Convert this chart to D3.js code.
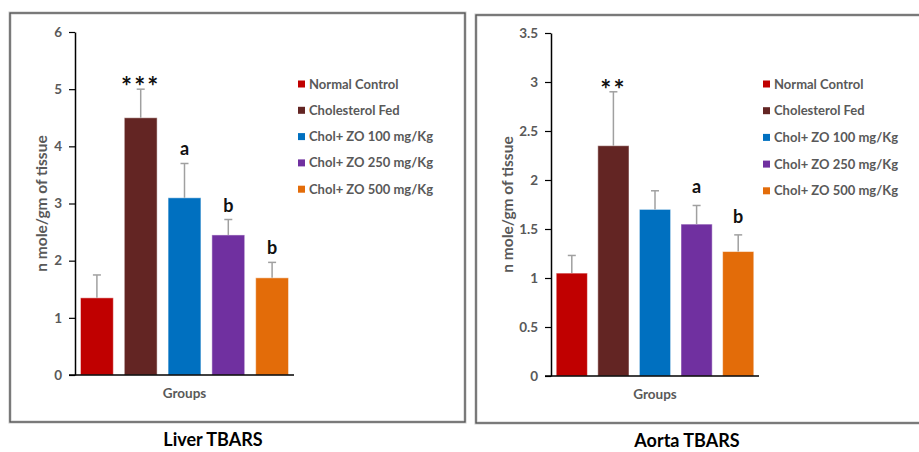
<!DOCTYPE html>
<html>
<head>
<meta charset="utf-8">
<script src="https://cdn.jsdelivr.net/npm/d3@7"></script>
<style>
  body { margin: 0; background: #fff; }
  svg text { font-family: Lato, "Liberation Sans", sans-serif; }
</style>
</head>
<body>
<div id="chart"></div>
<script>
// groups and colours shared by both panels
const groups = ["Normal Control", "Cholesterol Fed", "Chol+ ZO 100 mg/Kg", "Chol+ ZO 250 mg/Kg", "Chol+ ZO 500 mg/Kg"];
const groupColors = ["#c00000", "#632523", "#0070c0", "#7030a0", "#e36c09"];

// Liver TBARS
const liverMeans = [1.35, 4.5, 3.1, 2.45, 1.7];
const liverErrors = [0.4, 0.5, 0.6, 0.27, 0.27];
const liverMarks = ["", "***", "a", "b", "b"];
const liverTicks = [0, 1, 2, 3, 4, 5, 6];

// Aorta TBARS
const aortaMeans = [1.05, 2.35, 1.7, 1.55, 1.27];
const aortaErrors = [0.18, 0.55, 0.19, 0.19, 0.17];
const aortaMarks = ["", "**", "", "a", "b"];
const aortaTicks = [0, 0.5, 1, 1.5, 2, 2.5, 3, 3.5];

const yTitle = "n mole/gm of tissue";
const xTitle = "Groups";

const W = 919, H = 452;
const svg = d3.select("#chart").append("svg").attr("width", W).attr("height", H);

function drawPanel(p) {
  const g = svg.append("g");

  // frame
  g.append("rect")
    .attr("x", p.frame[0]).attr("y", p.frame[1])
    .attr("width", p.frame[2]).attr("height", p.frame[3])
    .attr("fill", "none").attr("stroke", "#c8c8c8").attr("stroke-width", 3);
  g.append("rect")
    .attr("x", p.frame[0]).attr("y", p.frame[1])
    .attr("width", p.frame[2]).attr("height", p.frame[3])
    .attr("fill", "none").attr("stroke", "#505050").attr("stroke-width", 1.3);

  const x = d3.scaleBand()
    .domain(groups)
    .range(p.xRange)
    .paddingInner(0.25)
    .paddingOuter(0.125);

  const y = d3.scaleLinear()
    .domain([0, d3.max(p.ticks)])
    .range(p.yRange);

  // bars
  g.selectAll("rect.bar")
    .data(groups)
    .join("rect")
    .attr("class", "bar")
    .attr("x", d => x(d))
    .attr("width", x.bandwidth())
    .attr("y", (d, i) => y(p.means[i]))
    .attr("height", (d, i) => y(0) - y(p.means[i]))
    .attr("fill", (d, i) => groupColors[i])
    .attr("stroke", "#ffffff")
    .attr("stroke-opacity", 0.5)
    .attr("stroke-width", 1);

  // error bars (upper only)
  const eb = g.selectAll("g.err")
    .data(groups)
    .join("g")
    .attr("class", "err");
  eb.append("line")
    .attr("x1", d => x(d) + x.bandwidth() / 2)
    .attr("x2", d => x(d) + x.bandwidth() / 2)
    .attr("y1", (d, i) => y(p.means[i]))
    .attr("y2", (d, i) => y(p.means[i] + p.errors[i]))
    .attr("stroke", "#a0a0a0").attr("stroke-width", 1.5);
  eb.append("line")
    .attr("x1", d => x(d) + x.bandwidth() / 2 - 4)
    .attr("x2", d => x(d) + x.bandwidth() / 2 + 4)
    .attr("y1", (d, i) => y(p.means[i] + p.errors[i]))
    .attr("y2", (d, i) => y(p.means[i] + p.errors[i]))
    .attr("stroke", "#a0a0a0").attr("stroke-width", 1.5);

  // significance marks
  g.selectAll("text.mark")
    .data(groups)
    .join("text")
    .attr("class", "mark")
    .attr("x", d => x(d) + x.bandwidth() / 2)
    .attr("y", (d, i) => y(p.means[i] + p.errors[i]) - (p.marks[i].startsWith("*") ? -7 : p.markGap))
    .attr("text-anchor", "middle")
    .style("font-size", (d, i) => p.marks[i].startsWith("*") ? "26px" : "18px")
    .style("font-weight", "bold")
    .style("letter-spacing", (d, i) => p.marks[i].startsWith("*") ? "2px" : null)
    .attr("fill", "#111")
    .text((d, i) => p.marks[i]);

  // y axis
  const ya = g.append("g")
    .attr("transform", `translate(${p.xRange[0]},0)`)
    .call(d3.axisLeft(y).tickValues(p.ticks).tickSize(6).tickSizeOuter(0).tickPadding(7)
      .tickFormat(d => d3.format("")(d)));
  ya.select(".domain").attr("stroke", "#000").attr("stroke-width", 1.5);
  ya.selectAll(".tick line").attr("stroke", "#000").attr("stroke-width", 1.2);
  ya.selectAll(".tick text")
    .attr("fill", "#595959")
    .style("font-size", "13.5px")
    .style("font-weight", "bold");

  // x axis line
  g.append("line")
    .attr("x1", p.xRange[0] - 6).attr("x2", p.xRange[1])
    .attr("y1", y(0)).attr("y2", y(0))
    .attr("stroke", "#000").attr("stroke-width", 1.5);

  // axis titles
  g.append("text")
    .attr("transform", `translate(${p.yTitleX},${(p.yRange[0] + p.yRange[1]) / 2}) rotate(-90)`)
    .attr("text-anchor", "middle")
    .attr("fill", "#595959")
    .style("font-size", "15.5px")
    .style("font-weight", "bold")
    .text(yTitle);

  g.append("text")
    .attr("x", (p.xRange[0] + p.xRange[1]) / 2)
    .attr("y", p.yRange[0] + 23)
    .attr("text-anchor", "middle")
    .attr("fill", "#595959")
    .style("font-size", "13.5px")
    .style("font-weight", "bold")
    .text(xTitle);

  // legend
  const lg = g.selectAll("g.leg")
    .data(groups)
    .join("g")
    .attr("class", "leg")
    .attr("transform", (d, i) => `translate(${p.legend[0]},${p.legend[1] + i * p.legend[2]})`);
  lg.append("rect")
    .attr("x", 0).attr("y", -3.5)
    .attr("width", 7).attr("height", 7)
    .attr("fill", (d, i) => groupColors[i]);
  lg.append("text")
    .attr("x", 11).attr("y", 4.5)
    .attr("fill", "#595959")
    .style("font-size", "13px")
    .style("font-weight", "bold")
    .text(d => d);

  // panel title
  g.append("text")
    .attr("x", p.title[0]).attr("y", p.title[1])
    .attr("text-anchor", "middle")
    .attr("fill", "#000")
    .style("font-size", "18px")
    .style("font-weight", "bold")
    .text(p.title[2]);
}

drawPanel({
  means: liverMeans, errors: liverErrors, marks: liverMarks, ticks: liverTicks,
  frame: [10, 13, 455, 409],
  xRange: [75, 294], yRange: [375, 32],
  markGap: 8,
  yTitleX: 47,
  legend: [298, 84, 26.3],
  title: [213, 446, "Liver TBARS"]
});

drawPanel({
  means: aortaMeans, errors: aortaErrors, marks: aortaMarks, ticks: aortaTicks,
  frame: [476, 15, 470, 408],
  xRange: [551, 759], yRange: [376, 33],
  markGap: 12,
  yTitleX: 513,
  legend: [763, 84, 26.7],
  title: [687, 447, "Aorta TBARS"]
});
</script>
</body>
</html>
